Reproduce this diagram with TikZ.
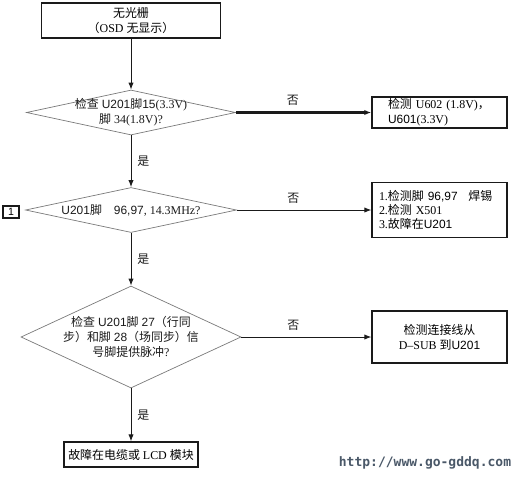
\documentclass[tikz,border=0pt]{standalone}
\usepackage{fontspec}
\setmainfont{Liberation Serif}
\setsansfont{Liberation Sans}
\newfontfamily\cnfont{Noto Sans CJK SC}
\newfontfamily\urlfont{DejaVu Sans Mono}
\usepackage{xcolor}
\usetikzlibrary{positioning, arrows.meta, shapes.geometric}
\newcommand{\cn}[1]{{\cnfont #1}}
\newcommand{\arl}[1]{{\sffamily #1}}
\definecolor{flow-dark}{HTML}{1A1A1A}
\definecolor{flow-gray}{HTML}{7A7A7A}
\definecolor{flow-url}{HTML}{4A5868}

\begin{document}
\begin{tikzpicture}[
    box/.style={draw=flow-dark, line width=0.7pt, font=\fontsize{6.8}{8.5}\selectfont, align=center, inner sep=0pt},
    choice/.style={diamond, draw=flow-gray, line width=0.4pt, inner sep=0pt},
    txt/.style={font=\fontsize{6.8}{8.5}\selectfont, align=center, text=flow-dark},
    link/.style={-{Latex[length=4pt,width=3pt]}, line width=0.5pt, draw=flow-dark},
]
    \useasboundingbox (0,0) rectangle (10.4,-9.58);

    % Start
    \node[box, minimum width=3.58cm, minimum height=0.70cm] (nolight) at (2.62,-0.41)
        {\cn{无光栅}\\\cn{（}OSD \cn{无显示）}};

    % Checks
    \node[choice, minimum width=4.18cm, minimum height=0.90cm,
          label={[txt, name=chk1-text]center:{\cn{检查} \arl{U201}\cn{脚}\arl{15}(3.3V)\\\cn{脚} 34(1.8V)?}}]
        (chk1) at (2.62,-2.25) {};
    \node[choice, minimum width=4.22cm, minimum height=0.90cm,
          label={[txt, name=chk2-text]center:{\arl{U201}\cn{脚}\quad\arl{96,97}, 14.3MHz?}}]
        (chk2) at (2.62,-4.2) {};
    \node[choice, minimum width=4.4cm, minimum height=2.04cm,
          label={[txt, name=chk3-text]center:{\cn{检查} \arl{U201}\cn{脚} \arl{27}\cn{（行同}\\\cn{步）和脚} \arl{28}\cn{（场同步）信}\\\cn{号脚提供脉冲}?}}]
        (chk3) at (2.62,-6.74) {};

    % Step marker
    \node[draw=flow-dark, line width=0.6pt, minimum width=0.32cm, minimum height=0.24cm, inner sep=0pt,
          font=\sffamily\fontsize{6}{7}\selectfont] (mark) at (0.22,-4.24) {1};

    % Fixes
    \node[box, minimum height=0.62cm, inner xsep=0.32cm, text width=2.06cm, align=left] (fix1) at (8.79,-2.25)
        {\cn{检测} U602 (1.8V)\cn{，}\\\arl{U601}(3.3V)};
    \node[box, minimum height=1.10cm, inner xsep=0.14cm, text width=2.42cm, align=left,
          font=\fontsize{6.8}{8}\selectfont] (fix2) at (8.79,-4.2)
        {1.\cn{检测脚} \arl{96,97}\hspace{0.9em}\cn{焊锡}\\2.\cn{检测} X501\\3.\cn{故障在}\arl{U201}};
    \node[box, minimum width=2.70cm, minimum height=1.04cm] (fix3) at (8.79,-6.74)
        {\cn{检测连接线从}\\D--SUB \cn{到}\arl{U201}};
    \node[box, minimum width=2.68cm, minimum height=0.50cm] (fault) at (2.62,-9.09)
        {\cn{故障在电缆或} LCD \cn{模块}};

    % Connectors
    \draw[link] (nolight) -- (chk1);
    \draw[link] (chk1) -- node[txt, right, name=yes1] {\cn{是}} (chk2);
    \draw[link] (chk2) -- node[txt, right, name=yes2] {\cn{是}} (chk3);
    \draw[link] (chk3) -- node[txt, right, name=yes3] {\cn{是}} (fault);
    \draw[link, line width=1.2pt] (chk1) -- node[txt, above, pos=0.42, name=no1] {\cn{否}} (fix1);
    \draw[link] (chk2) -- node[txt, above, pos=0.42, name=no2] {\cn{否}} (fix2);
    \draw[link] (chk3) -- node[txt, above, pos=0.40, name=no3] {\cn{否}} (fix3);

    % Site
    \node[font=\urlfont\bfseries\fontsize{7.4}{9}\selectfont, text=flow-url] (site) at (8.5,-9.26)
        {http://www.go-gddq.com};
\end{tikzpicture}
\end{document}
